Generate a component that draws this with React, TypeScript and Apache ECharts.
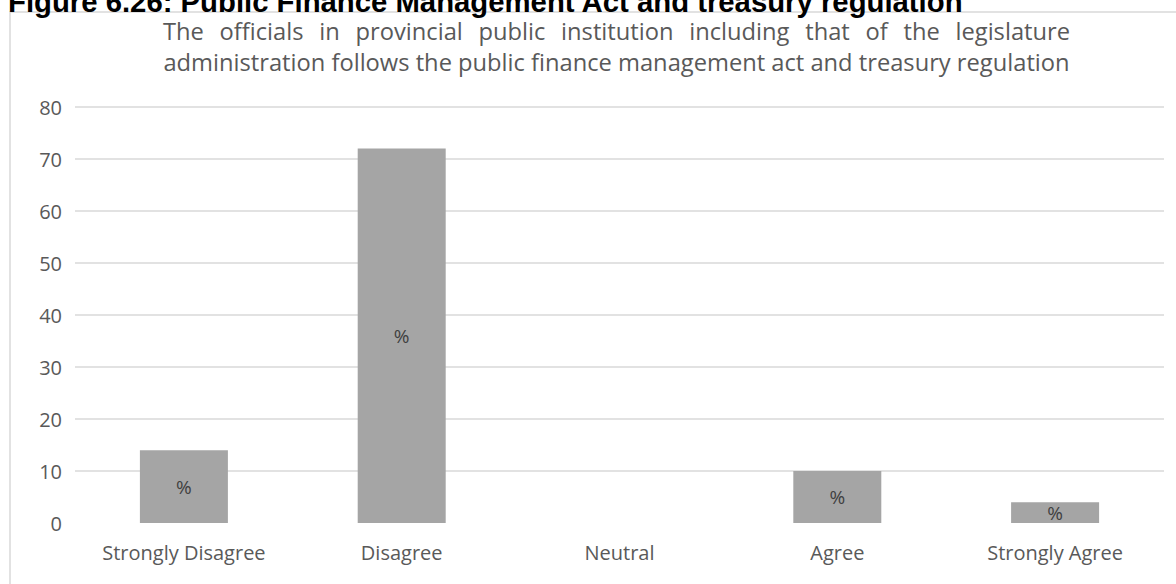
import React, { useEffect, useRef } from 'react';
import * as echarts from 'echarts';

// ---- data ----
const categories: string[] = ['Strongly Disagree', 'Disagree', 'Neutral', 'Agree', 'Strongly Agree'];
const percentValues: number[] = [14, 72, 0, 10, 4];
const yMin = 0;
const yMax = 80;
const yInterval = 10;
const barLabelText = '%';
const captionText = 'Figure 6.26: Public Finance Management Act and treasury regulation';
const titleLine1 = 'The officials in provincial public institution including that of the legislature';
const titleLine2 = 'administration follows the public finance management act and treasury regulation';

const FONT = "'Open Sans', sans-serif";
const CAPTION_FONT = "'Liberation Sans', Arial, sans-serif";

function measure(text: string, font: string): number {
  const ctx = document.createElement('canvas').getContext('2d')!;
  ctx.font = font;
  return ctx.measureText(text).width;
}

export default function App() {
  const ref = useRef<HTMLDivElement>(null);

  useEffect(() => {
    document.body.style.margin = '0';
    const chart = echarts.init(ref.current!, null, { renderer: 'svg' });

    // title block geometry
    const titleLeft = 163;
    const titleRight = 1070;
    const titleW = titleRight - titleLeft;
    const per100 = measure(titleLine2, `100px ${FONT}`);
    const titleSize = Math.round((titleW / per100) * 1000) / 10;
    const font1 = `${titleSize}px ${FONT}`;
    const words = titleLine1.split(' ');
    const ws = words.map((w) => measure(w, font1));
    const sumW = ws.reduce((a, b) => a + b, 0);
    const gap = (titleW - sumW) / (words.length - 1);
    let cx = titleLeft;
    const wordEls: any[] = words.map((w, i) => {
      const el = {
        type: 'text',
        x: cx,
        y: 31,
        z: 10,
        style: {
          text: w,
          fontSize: titleSize,
          fontFamily: FONT,
          fill: '#595959',
          align: 'left',
          textAlign: 'left',
          verticalAlign: 'middle',
          textVerticalAlign: 'middle',
        },
      };
      cx += ws[i] + gap;
      return el;
    });

    const capPer100 = measure(captionText, `bold 100px ${CAPTION_FONT}`);
    const capSize = Math.round(((965 - 8) / capPer100) * 1000) / 10;

    const option: any = {
      animation: false,
      backgroundColor: '#ffffff',
      grid: { left: 75, right: 12, top: 107, bottom: 61, containLabel: false },
      xAxis: {
        type: 'category',
        data: categories,
        axisLine: { show: false },
        axisTick: { show: false },
        axisLabel: {
          color: '#595959',
          fontSize: 20,
          fontFamily: FONT,
          margin: 17,
          lineHeight: 24,
          interval: 0,
        },
      },
      yAxis: {
        type: 'value',
        min: yMin,
        max: yMax,
        interval: yInterval,
        axisLine: { show: false },
        axisTick: { show: false },
        axisLabel: { color: '#595959', fontSize: 20, fontFamily: FONT, margin: 13 },
        splitLine: { show: true, showMinLine: false, lineStyle: { color: '#d9d9d9', width: 1.5 } },
      },
      series: [
        {
          type: 'bar',
          data: percentValues,
          barWidth: 88,
          itemStyle: { color: '#a5a5a5' },
          label: {
            show: true,
            position: 'inside',
            color: '#404040',
            fontSize: 19,
            fontFamily: FONT,
            formatter: (p: any) => (p.value > 0 ? barLabelText : ''),
          },
        },
      ],
      graphic: [
        {
          type: 'rect',
          z: 0,
          shape: { x: 10, y: 12, width: 1200, height: 620 },
          style: { fill: 'none', stroke: '#d9d9d9', lineWidth: 1.5 },
          silent: true,
        },
        {
          type: 'text',
          x: 8,
          y: 1,
          z: 10,
          style: {
            text: captionText,
            fontSize: capSize,
            fontWeight: 'bold',
            fontFamily: CAPTION_FONT,
            fill: '#000000',
            align: 'left',
            textAlign: 'left',
            verticalAlign: 'middle',
            textVerticalAlign: 'middle',
          },
        },
        ...wordEls,
        {
          type: 'text',
          x: (titleLeft + titleRight) / 2,
          y: 62,
          z: 10,
          style: {
            text: titleLine2,
            fontSize: titleSize,
            fontFamily: FONT,
            fill: '#595959',
            align: 'center',
            textAlign: 'center',
            verticalAlign: 'middle',
            textVerticalAlign: 'middle',
          },
        },
      ],
    };

    chart.setOption(option);
    return () => chart.dispose();
  }, []);

  return <div ref={ref} style={{ width: 1176, height: 584 }} />;
}
